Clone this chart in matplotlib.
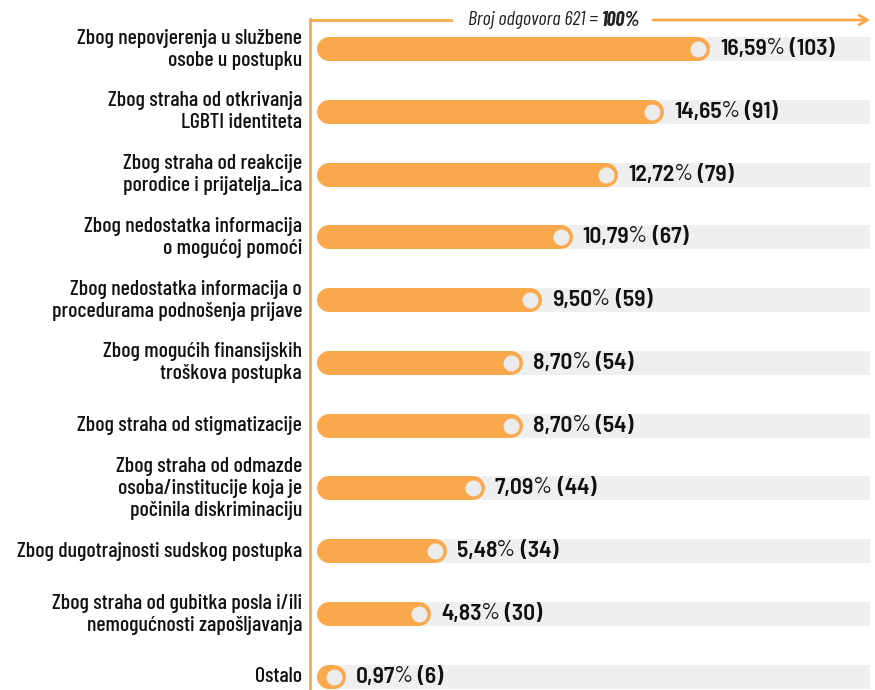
import numpy as np
import matplotlib.pyplot as plt
from matplotlib.lines import Line2D

# --- PODACI ---
kategorije = [
    "Zbog nepovjerenja u službene\nosobe u postupku",
    "Zbog straha od otkrivanja\nLGBTI identiteta",
    "Zbog straha od reakcije\nporodice i prijatelja_ica",
    "Zbog nedostatka informacija\no mogućoj pomoći",
    "Zbog nedostatka informacija o\nprocedurama podnošenja prijave",
    "Zbog mogućih finansijskih\ntroškova postupka",
    "Zbog straha od stigmatizacije",
    "Zbog straha od odmazde\nosoba/institucije koja je\npočinila diskriminaciju",
    "Zbog dugotrajnosti sudskog postupka",
    "Zbog straha od gubitka posla i/ili\nnemogućnosti zapošljavanja",
    "Ostalo",
]
postotci = [16.59, 14.65, 12.72, 10.79, 9.50, 8.70, 8.70, 7.09, 5.48, 4.83, 0.97]
odgovori = [103, 91, 79, 67, 59, 54, 54, 44, 34, 30, 6]
naslov_dio1 = "Broj odgovora 621 = "
naslov_dio2 = "100%"

# --- STIL ---
NARANCASTA = "#f9a94b"
SIVA = "#efefef"
KRUG = "#ebebeb"
TEKST = "#111111"
plt.rcParams["font.family"] = ["Barlow Condensed", "DejaVu Sans"]
FONT_VRIJ = ["Barlow Semi Condensed", "Barlow Condensed", "DejaVu Sans"]

W, H = 875, 690
fig = plt.figure(figsize=(W / 100, H / 100), dpi=100)
x0, x1 = 317, 870
ax = fig.add_axes([x0 / W, 0, (x1 - x0) / W, 1 - 18 / H])

px_po_post = 23.7
xmax = (x1 - x0) / px_po_post
ax.set_xlim(0, xmax)
ax.set_ylim(10.21, -0.494)
ax.axis("off")

lw_px = 24
lw = lw_px * 72 / 100
r = (lw_px / 2) / px_po_post

for i, (p, n) in enumerate(zip(postotci, odgovori)):
    # sivi trag do kraja
    ax.plot([r, xmax + 2], [i, i], color=SIVA, lw=lw, solid_capstyle="round", zorder=1)
    kraj = max(p, 2 * r + 0.2)
    ax.plot([r, kraj - r], [i, i], color=NARANCASTA, lw=lw, solid_capstyle="round", zorder=2)
    ax.plot(kraj - r, i, "o", color=KRUG, ms=11.5, mec="none", zorder=3)

    # oznaka vrijednosti u tri dijela
    broj = f"{p:.2f}".replace(".", ",")
    t1 = ax.annotate(broj, xy=(kraj, i), xytext=(7, 0), textcoords="offset points",
                     ha="left", va="center", fontsize=17, fontweight="semibold",
                     family=FONT_VRIJ, color=TEKST)
    t2 = ax.annotate("%", xy=(1, 0), xycoords=t1, xytext=(-0.5, 0), textcoords="offset points",
                     ha="left", va="bottom", fontsize=17, fontweight="normal",
                     family=FONT_VRIJ, color=TEKST)
    ax.annotate(f" ({n})", xy=(1, 0), xycoords=t2, xytext=(0, 0), textcoords="offset points",
                ha="left", va="bottom", fontsize=17, fontweight="semibold",
                family=FONT_VRIJ, color=TEKST)

    # kategorija
    ax.annotate(kategorije[i], xy=(0, i), xycoords=("axes fraction", "data"),
                xytext=(-15 * 72 / 100, 0), textcoords="offset points",
                ha="right", va="center", multialignment="right",
                fontsize=15.75, fontweight="medium", linespacing=1.2, color=TEKST,
                annotation_clip=False)

# --- OKVIR: okomita linija i strelica ---
lx = 310 / W
ly = 1 - 20 / H
fig.add_artist(Line2D([lx, lx], [0, ly + 1.5 / H], color=NARANCASTA, lw=2))
fig.add_artist(Line2D([lx, 451 / W], [ly, ly], color=NARANCASTA, lw=2))
ax.annotate("", xy=(870 / W, ly), xytext=(653 / W, ly), xycoords="figure fraction",
            textcoords="figure fraction", annotation_clip=False,
            arrowprops=dict(arrowstyle="->,head_length=0.6,head_width=0.35",
                            color=NARANCASTA, lw=2, shrinkA=0, shrinkB=0))
fig.text(602 / W, ly, naslov_dio1, ha="right", va="center", fontsize=14.5,
         style="italic", color="#222222")
fig.text(602 / W, ly, naslov_dio2, ha="left", va="center", fontsize=14.5,
         style="italic", fontweight="bold", color="#222222")

fig.savefig("out.png", dpi=100)
